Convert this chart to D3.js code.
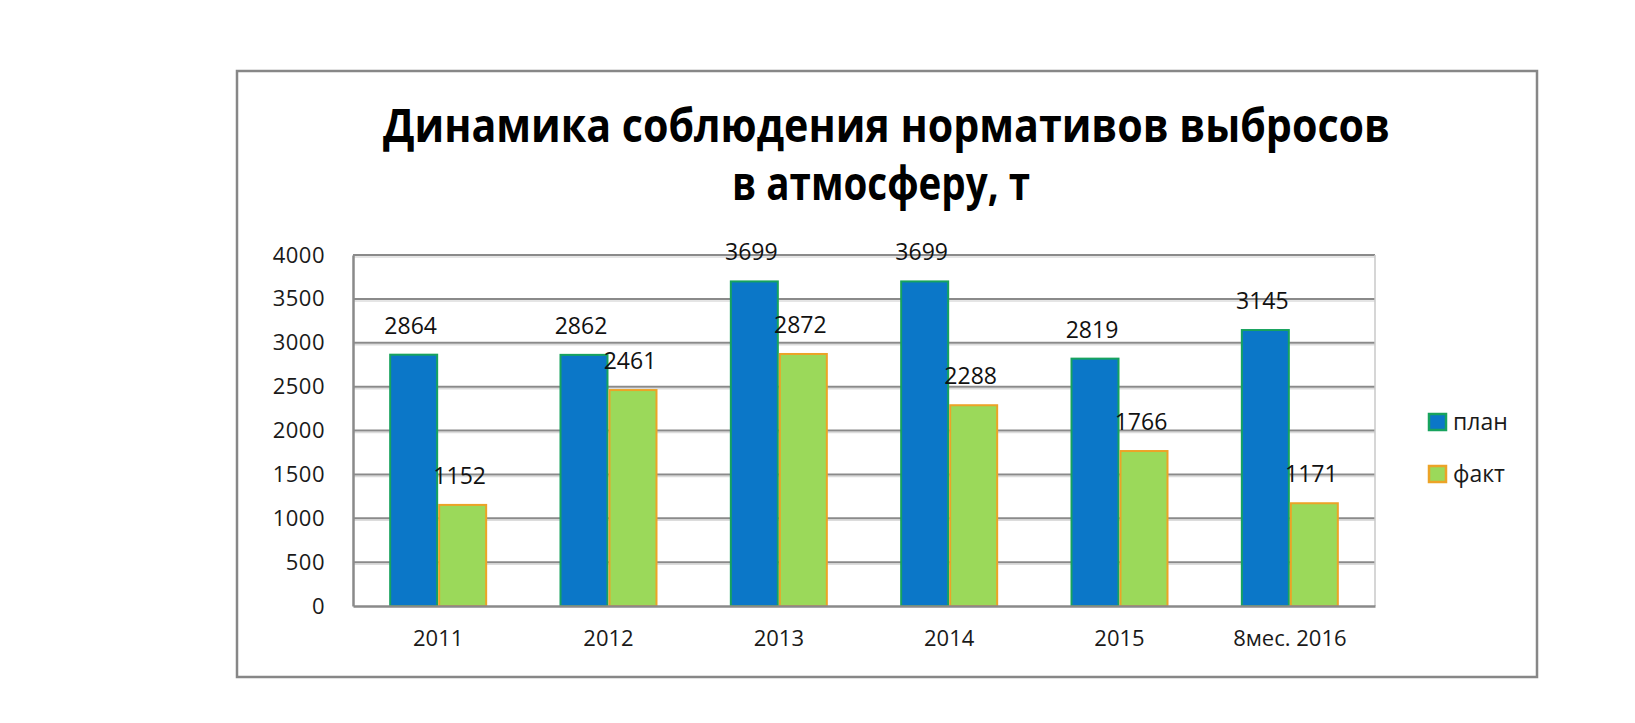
<!DOCTYPE html>
<html>
<head>
<meta charset="utf-8">
<script src="https://cdn.jsdelivr.net/npm/d3@7"></script>
<style>
  html, body { margin: 0; padding: 0; background: #ffffff; }
  svg { display: block; }
</style>
</head>
<body>
<svg id="chart" width="1635" height="723"></svg>
<script>
const categories = ["2011", "2012", "2013", "2014", "2015", "8мес. 2016"];
const seriesNames = ["план", "факт"];
const planValues = [2864, 2862, 3699, 3699, 2819, 3145];
const factValues = [1152, 2461, 2872, 2288, 1766, 1171];
const yTickValues = [0, 500, 1000, 1500, 2000, 2500, 3000, 3500, 4000];
const titleLines = ["Динамика соблюдения нормативов выбросов", "в атмосферу, т"];

const seriesValues = { "план": planValues, "факт": factValues };
const fills = { "план": "#0b77c8", "факт": "#9bd95a" };
const strokes = { "план": "#17a35e", "факт": "#eca327" };

const svg = d3.select("#chart");
svg.append("rect").attr("width", 1635).attr("height", 723).attr("fill", "#ffffff");

// outer border
svg.append("rect")
  .attr("x", 237).attr("y", 71).attr("width", 1300).attr("height", 606)
  .attr("fill", "none").attr("stroke", "#878787").attr("stroke-width", 2.5);

// title
const titleG = svg.append("g").attr("font-family", "'Open Sans', sans-serif")
  .attr("font-weight", "bold").attr("font-size", 46).attr("fill", "#000");
titleG.append("text").attr("x", 886.5).attr("y", 142).attr("text-anchor", "middle")
  .attr("textLength", 1007).attr("lengthAdjust", "spacingAndGlyphs").text(titleLines[0]);
titleG.append("text").attr("x", 881).attr("y", 200).attr("text-anchor", "middle")
  .attr("textLength", 298).attr("lengthAdjust", "spacingAndGlyphs").text(titleLines[1]);

const plot = { left: 353, right: 1375, top: 255, bottom: 606 };

const y = d3.scaleLinear().domain([0, 4000]).range([plot.bottom, plot.top]);
const x0 = d3.scaleBand().domain(categories).range([plot.left, plot.right]).padding(0);
const groupW = 98;
const x1 = d3.scaleBand().domain(seriesNames)
  .range([(x0.bandwidth() - groupW) / 2, (x0.bandwidth() + groupW) / 2]).padding(0);

// gridlines
const grid = svg.append("g");
grid.selectAll("line.shadow").data(yTickValues.filter(d => d > 0)).enter().append("line")
  .attr("x1", plot.left).attr("x2", plot.right)
  .attr("y1", d => y(d) + 2).attr("y2", d => y(d) + 2)
  .attr("stroke", "#dcdcdc").attr("stroke-width", 1.5);
grid.selectAll("line.g").data(yTickValues.filter(d => d > 0)).enter().append("line")
  .attr("x1", plot.left).attr("x2", plot.right)
  .attr("y1", d => y(d)).attr("y2", d => y(d))
  .attr("stroke", "#8a8a8a").attr("stroke-width", 2);

// plot right border
svg.append("line").attr("x1", plot.right).attr("x2", plot.right)
  .attr("y1", plot.top).attr("y2", plot.bottom)
  .attr("stroke", "#c8c8c8").attr("stroke-width", 1.5);

// bars
const groups = svg.append("g").selectAll("g").data(categories).enter().append("g")
  .attr("transform", d => `translate(${x0(d)},0)`);
groups.selectAll("rect").data((c, i) => seriesNames.map(s => ({ s, v: seriesValues[s][i] })))
  .enter().append("rect")
  .attr("x", d => x1(d.s) + 1)
  .attr("width", x1.bandwidth() - 2)
  .attr("y", d => y(d.v))
  .attr("height", d => y(0) - y(d.v))
  .attr("fill", d => fills[d.s])
  .attr("stroke", d => strokes[d.s]).attr("stroke-width", 2);

// data labels
groups.selectAll("text").data((c, i) => seriesNames.map(s => ({ s, v: seriesValues[s][i] })))
  .enter().append("text")
  .attr("x", d => x1(d.s) + x1.bandwidth() / 2 - 3)
  .attr("y", d => y(d.v) - 21)
  .attr("text-anchor", "middle")
  .attr("font-family", "'Open Sans', sans-serif").attr("font-size", 23)
  .attr("fill", "#111")
  .text(d => d.v);

// y axis
const yAxis = svg.append("g").attr("transform", `translate(${plot.left},0)`)
  .call(d3.axisLeft(y).tickValues(yTickValues).tickSize(0).tickPadding(28).tickFormat(d3.format("d")));
yAxis.select(".domain").attr("stroke", "#8a8a8a").attr("stroke-width", 2.5);
yAxis.selectAll("text").attr("font-family", "'Open Sans', sans-serif").attr("font-size", 22)
  .attr("fill", "#1a1a1a").attr("letter-spacing", "0.5px");

// x axis
const xAxis = svg.append("g").attr("transform", `translate(0,${plot.bottom})`)
  .call(d3.axisBottom(x0).tickSize(0).tickPadding(24));
xAxis.select(".domain").attr("stroke", "#8a8a8a").attr("stroke-width", 2.5);
xAxis.selectAll("text").attr("font-family", "'Open Sans', sans-serif").attr("font-size", 22)
  .attr("fill", "#1a1a1a");

// legend
const legend = svg.append("g").attr("transform", "translate(1429,414)");
const li = legend.selectAll("g").data(seriesNames).enter().append("g")
  .attr("transform", (d, i) => `translate(0,${i * 52})`);
li.append("rect").attr("x", 0).attr("y", 0).attr("width", 17).attr("height", 16)
  .attr("fill", d => fills[d]).attr("stroke", d => strokes[d]).attr("stroke-width", 2.5);
li.append("text").attr("x", 24).attr("y", 16)
  .attr("font-family", "'Open Sans', sans-serif").attr("font-size", 23).attr("fill", "#1a1a1a")
  .text(d => d);
</script>
</body>
</html>
